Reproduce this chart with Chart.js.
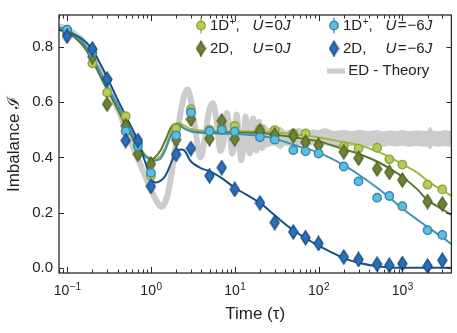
<!DOCTYPE html>
<html>
<head>
<meta charset="utf-8">
<script src="https://cdn.jsdelivr.net/npm/chart.js@4.4.1/dist/chart.umd.min.js"></script>
<style>
  html, body { margin: 0; padding: 0; background: #fff; }
  #wrap { width: 457px; height: 333px; }
</style>
</head>
<body>
<div id="wrap"><canvas id="myChart" width="457" height="333"></canvas></div>
<script>
// measured points
const times = [0.1, 0.2, 0.3, 0.5, 0.7, 1, 2, 3, 5, 7, 10, 20, 30, 50, 70, 100, 200, 300, 500, 700, 1000, 2000, 3000];
const oneD_U0 = [0.863, 0.741, 0.635, 0.549, 0.45, 0.332, 0.505, 0.575, 0.5, 0.51, 0.514, 0.502, 0.499, 0.487, 0.487, null, 0.44, 0.432, 0.435, 0.393, 0.374, 0.301, 0.284];
const twoD_U0 = [0.85, 0.765, 0.593, 0.514, 0.412, 0.376, 0.464, 0.538, 0.468, 0.532, 0.467, 0.495, 0.481, 0.478, 0.455, 0.444, 0.42, 0.397, 0.358, 0.346, 0.318, 0.24, 0.231];
const oneD_U6 = [0.863, 0.78, 0.68, 0.495, 0.44, 0.344, 0.48, 0.563, 0.495, 0.5, 0.494, 0.473, 0.464, 0.426, 0.422, 0.414, 0.367, 0.313, 0.254, 0.26, 0.223, 0.136, 0.119];
const twoD_U6 = [0.839, 0.793, 0.684, 0.461, 0.461, 0.295, 0.411, 0.432, 0.333, 0.363, 0.284, 0.235, 0.164, 0.13, 0.109, 0.088, 0.039, 0.03, 0.013, 0.009, 0.015, 0.006, 0.027];

// fit curves
const fitTimes = [0.08, 0.1, 0.15, 0.2, 0.3, 0.4, 0.5, 0.7, 0.85, 1, 1.1, 1.3, 1.5, 1.8, 2.1, 2.5, 3, 4, 5, 7, 10, 20, 30, 50, 100, 200, 300, 500, 700, 1000, 1500, 2000, 3000, 3850];
const fit_oneD_U0 = [0.868, 0.862, 0.82, 0.76, 0.655, 0.585, 0.525, 0.45, 0.41, 0.393, 0.39, 0.405, 0.44, 0.505, 0.525, 0.515, 0.503, 0.497, 0.496, 0.495, 0.495, 0.494, 0.491, 0.484, 0.472, 0.455, 0.445, 0.422, 0.402, 0.375, 0.345, 0.315, 0.28, 0.262];
const fit_twoD_U0 = [0.862, 0.855, 0.81, 0.75, 0.645, 0.575, 0.515, 0.44, 0.405, 0.395, 0.398, 0.425, 0.465, 0.515, 0.52, 0.505, 0.495, 0.49, 0.49, 0.49, 0.49, 0.488, 0.483, 0.473, 0.458, 0.43, 0.413, 0.385, 0.36, 0.33, 0.285, 0.245, 0.212, 0.192];
const fit_oneD_U6 = [0.87, 0.864, 0.82, 0.765, 0.66, 0.59, 0.53, 0.45, 0.405, 0.39, 0.388, 0.395, 0.43, 0.49, 0.514, 0.505, 0.495, 0.489, 0.487, 0.486, 0.485, 0.478, 0.468, 0.446, 0.417, 0.372, 0.338, 0.29, 0.255, 0.215, 0.175, 0.148, 0.11, 0.086];
const fit_twoD_U6 = [0.862, 0.855, 0.83, 0.79, 0.69, 0.61, 0.55, 0.46, 0.385, 0.325, 0.31, 0.315, 0.335, 0.39, 0.425, 0.425, 0.385, 0.36, 0.35, 0.325, 0.29, 0.235, 0.19, 0.136, 0.08, 0.035, 0.018, 0.005, 0.001, 0, 0, 0, 0, 0];

// ED theory: oscillating curve, then a narrow band
const edTimes = [0.08, 0.1, 0.15, 0.2, 0.3, 0.4, 0.5, 0.7, 1.0, 1.2, 1.35, 1.55, 1.8, 2.1, 2.45, 2.75, 3.1, 3.5, 3.9, 4.4, 5.0, 5.5, 6.1, 6.7, 7.3, 8.0, 8.7, 9.3, 9.9, 10.5, 11.2, 12.0, 12.8, 13.5, 14.3, 15.1, 15.9, 16.6, 17.4, 18.1, 18.9, 19.6, 20.4, 21.2, 22, 23];
const edValues = [0.875, 0.865, 0.825, 0.772, 0.667, 0.578, 0.505, 0.395, 0.285, 0.235, 0.222, 0.255, 0.36, 0.5, 0.615, 0.645, 0.58, 0.47, 0.4, 0.47, 0.575, 0.595, 0.53, 0.425, 0.45, 0.56, 0.5, 0.415, 0.45, 0.555, 0.47, 0.39, 0.47, 0.548, 0.47, 0.415, 0.5, 0.54, 0.46, 0.425, 0.52, 0.528, 0.45, 0.435, 0.51, 0.5];
const edBandTimes = [22, 25, 30, 35, 40, 50, 60, 70, 85, 100, 120, 150, 200, 250, 300, 400, 500, 600, 700, 850, 1000, 1200, 1500, 2000, 2150, 2300, 2700, 3200, 3850];
const edBandUpper = [0.52, 0.505, 0.5, 0.51, 0.495, 0.5, 0.505, 0.492, 0.5, 0.497, 0.505, 0.494, 0.498, 0.493, 0.499, 0.493, 0.497, 0.492, 0.496, 0.494, 0.497, 0.493, 0.496, 0.494, 0.51, 0.495, 0.493, 0.497, 0.494];
const edBandLower = [0.43, 0.44, 0.445, 0.43, 0.445, 0.44, 0.447, 0.44, 0.447, 0.443, 0.446, 0.441, 0.446, 0.442, 0.445, 0.441, 0.444, 0.44, 0.445, 0.441, 0.444, 0.44, 0.443, 0.44, 0.43, 0.443, 0.44, 0.443, 0.44];

// axes
const yTicks = [0, 0.2, 0.4, 0.6, 0.8];
const xTickValues = [0.1, 1, 10, 100, 1000];
const xTickExps = ["\u22121", "0", "1", "2", "3"];

const FONT = "'Liberation Sans', Arial, Helvetica, sans-serif";
const INK = "#222222";
const GRAY = "#cccccc";

const colors = {
  a: { fill: "#b7cc58", edge: "#8ca43a", line: "#a0bb45" },
  b: { fill: "#6e8235", edge: "#4d6021", line: "#5f752e" },
  c: { fill: "#5dbde0", edge: "#3388ad", line: "#3b93b5" },
  d: { fill: "#2a70b8", edge: "#15487e", line: "#1b4f86" },
};

function diamondImage(fill, edge) {
  const c = document.createElement("canvas");
  c.width = 11;
  c.height = 16;
  const g = c.getContext("2d");
  g.beginPath();
  g.moveTo(5.5, 1);
  g.lineTo(10, 8);
  g.lineTo(5.5, 15);
  g.lineTo(1, 8);
  g.closePath();
  g.fillStyle = fill;
  g.fill();
  g.lineWidth = 1.3;
  g.strokeStyle = edge;
  g.stroke();
  return c;
}

function pts(xs, ys) {
  return xs.map((x, i) => ({ x: x, y: ys[i] })).filter((p) => p.y !== null);
}

function fitLine(label, values, col, order) {
  return {
    label: label,
    data: pts(fitTimes, values),
    showLine: true,
    borderColor: col.line,
    borderWidth: 2,
    pointRadius: 0,
    tension: 0.35,
    order: order,
  };
}

function markers(label, values, col, style, order) {
  return {
    label: label,
    data: pts(times, values),
    showLine: false,
    pointStyle: style,
    pointRadius: 4.2,
    pointBorderWidth: 1.4,
    pointBackgroundColor: col.fill,
    pointBorderColor: col.edge,
    order: order,
  };
}

const diamondB = diamondImage(colors.b.fill, colors.b.edge);
const diamondD = diamondImage(colors.d.fill, colors.d.edge);

// legend drawn inside the plot
const legendRows = [
  { col: 0, row: 0, head: "1D", sup: "+", val: "0", c: colors.a, shape: "circle" },
  { col: 0, row: 1, head: "2D", sup: "", val: "0", c: colors.b, shape: diamondB },
  { col: 1, row: 0, head: "1D", sup: "+", val: "\u22126", c: colors.c, shape: "circle" },
  { col: 1, row: 1, head: "2D", sup: "", val: "\u22126", c: colors.d, shape: diamondD },
];

const frame = {
  id: "frame",
  afterDraw(chart) {
    const ctx = chart.ctx;
    const a = chart.chartArea;
    const xs = chart.scales.x;
    const ys = chart.scales.y;
    ctx.save();

    // inward ticks on all four sides
    ctx.strokeStyle = "#2b2b2b";
    ctx.lineWidth = 1;
    ctx.beginPath();
    for (let e = -2; e <= 3; e++) {
      for (let k = 1; k <= 9; k++) {
        const v = k * Math.pow(10, e);
        if (v < xs.min || v > xs.max) continue;
        const px = Math.round(xs.getPixelForValue(v)) + 0.5;
        const len = k === 1 ? 6 : 3.5;
        ctx.moveTo(px, a.bottom);
        ctx.lineTo(px, a.bottom - len);
        ctx.moveTo(px, a.top);
        ctx.lineTo(px, a.top + len);
      }
    }
    yTicks.forEach((v) => {
      const py = Math.round(ys.getPixelForValue(v)) + 0.5;
      ctx.moveTo(a.left, py);
      ctx.lineTo(a.left + 5, py);
      ctx.moveTo(a.right, py);
      ctx.lineTo(a.right - 5, py);
    });
    ctx.stroke();
    ctx.lineWidth = 1.3;
    ctx.strokeRect(a.left, a.top, a.right - a.left, a.bottom - a.top);

    // x tick labels 10^n
    ctx.fillStyle = INK;
    ctx.textBaseline = "alphabetic";
    ctx.textAlign = "left";
    xTickValues.forEach((v, i) => {
      const px = xs.getPixelForValue(v);
      ctx.font = "14px " + FONT;
      const w1 = ctx.measureText("10").width;
      ctx.font = "10px " + FONT;
      const w2 = ctx.measureText(xTickExps[i]).width;
      const x0 = px - (w1 + w2) / 2;
      ctx.font = "14px " + FONT;
      ctx.fillText("10", x0, a.bottom + 22);
      ctx.font = "10px " + FONT;
      ctx.fillText(xTickExps[i], x0 + w1 + 0.5, a.bottom + 16.5);
    });

    // legend
    const colX = [201, 334];
    const rowY = [25.5, 48.5, 71];
    ctx.textBaseline = "middle";
    legendRows.forEach((r) => {
      const x = colX[r.col];
      const y = rowY[r.row];
      ctx.strokeStyle = r.c.edge;
      ctx.lineWidth = 1.2;
      ctx.beginPath();
      ctx.moveTo(x, y - 8);
      ctx.lineTo(x, y + 8);
      ctx.stroke();
      if (r.shape === "circle") {
        ctx.fillStyle = r.c.fill;
        ctx.strokeStyle = r.c.edge;
        ctx.lineWidth = 1.4;
        ctx.beginPath();
        ctx.arc(x, y, 4.2, 0, Math.PI * 2);
        ctx.fill();
        ctx.stroke();
      } else {
        ctx.drawImage(r.shape, x - r.shape.width / 2, y - r.shape.height / 2);
      }
      ctx.fillStyle = INK;
      let tx = x + 9;
      ctx.font = "15px " + FONT;
      ctx.fillText(r.head, tx, y);
      tx += ctx.measureText(r.head).width;
      if (r.sup) {
        ctx.font = "10px " + FONT;
        ctx.fillText(r.sup, tx + 0.5, y - 3.5);
        tx += ctx.measureText(r.sup).width + 0.5;
      }
      ctx.font = "15px " + FONT;
      ctx.fillText(",", tx, y);
      let ux = x + 51.5;
      ctx.font = "italic 15px " + FONT;
      ctx.fillText("U", ux, y);
      ux += ctx.measureText("U").width + 1.5;
      ctx.font = "15px " + FONT;
      ctx.fillText("=", ux, y);
      ux += ctx.measureText("=").width + 1;
      ctx.fillText(r.val, ux, y);
      ux += ctx.measureText(r.val).width;
      ctx.font = "italic 15px " + FONT;
      ctx.fillText("J", ux, y);
    });
    ctx.strokeStyle = GRAY;
    ctx.lineWidth = 5;
    ctx.beginPath();
    ctx.moveTo(327, rowY[2]);
    ctx.lineTo(345, rowY[2]);
    ctx.stroke();
    ctx.fillStyle = INK;
    ctx.font = "15px " + FONT;
    ctx.fillText("ED - Theory", 348.3, rowY[2]);
    ctx.restore();
  },
};

document.addEventListener("DOMContentLoaded", function () {
  const ctx = document.getElementById("myChart").getContext("2d");
  new Chart(ctx, {
    type: "scatter",
    data: {
      datasets: [
        markers("2D, U=\u22126J", twoD_U6, colors.d, diamondD, 1),
        markers("1D\u207A, U=\u22126J", oneD_U6, colors.c, "circle", 2),
        markers("2D, U=0J", twoD_U0, colors.b, diamondB, 3),
        markers("1D\u207A, U=0J", oneD_U0, colors.a, "circle", 4),
        fitLine("fit 2D, U=\u22126J", fit_twoD_U6, colors.d, 5),
        fitLine("fit 1D\u207A, U=\u22126J", fit_oneD_U6, colors.c, 6),
        fitLine("fit 2D, U=0J", fit_twoD_U0, colors.b, 7),
        fitLine("fit 1D\u207A, U=0J", fit_oneD_U0, colors.a, 8),
        {
          label: "ED - Theory",
          data: pts(edTimes, edValues),
          showLine: true,
          borderColor: GRAY,
          borderWidth: 6,
          pointRadius: 0,
          tension: 0.4,
          order: 9,
        },
        {
          label: "ED band upper",
          data: pts(edBandTimes, edBandUpper),
          showLine: true,
          borderColor: GRAY,
          borderWidth: 1,
          pointRadius: 0,
          tension: 0,
          fill: false,
          order: 10,
        },
        {
          label: "ED band lower",
          data: pts(edBandTimes, edBandLower),
          showLine: true,
          borderColor: GRAY,
          backgroundColor: GRAY,
          borderWidth: 1,
          pointRadius: 0,
          tension: 0,
          fill: "-1",
          order: 11,
        },
      ],
    },
    options: {
      responsive: false,
      animation: false,
      devicePixelRatio: 1,
      layout: { padding: { left: 0, right: 5, top: 7, bottom: 0 } },
      plugins: {
        legend: { display: false },
        tooltip: { enabled: false },
      },
      scales: {
        x: {
          type: "logarithmic",
          min: 0.08,
          max: 3850,
          grid: { display: false, drawTicks: false },
          border: { display: false },
          ticks: { display: false },
          title: {
            display: true,
            text: "Time (\u03C4)",
            color: INK,
            font: { family: FONT, size: 17 },
            padding: { top: 0, bottom: 8 },
          },
          afterFit: (s) => { s.height = 60; },
        },
        y: {
          type: "linear",
          min: -0.019,
          max: 0.916,
          grid: { display: false, drawTicks: false },
          border: { display: false },
          afterBuildTicks: (s) => { s.ticks = yTicks.map((v) => ({ value: v })); },
          ticks: {
            color: INK,
            padding: 6,
            font: { family: FONT, size: 15 },
            callback: (v) => Number(v).toFixed(1),
          },
          title: {
            display: true,
            text: "Imbalance \u2110",
            color: INK,
            font: { family: FONT, size: 17 },
            padding: { top: 4, bottom: 0 },
          },
          afterFit: (s) => { s.width = 59; },
        },
      },
    },
    plugins: [frame],
  });
});
</script>
</body>
</html>
